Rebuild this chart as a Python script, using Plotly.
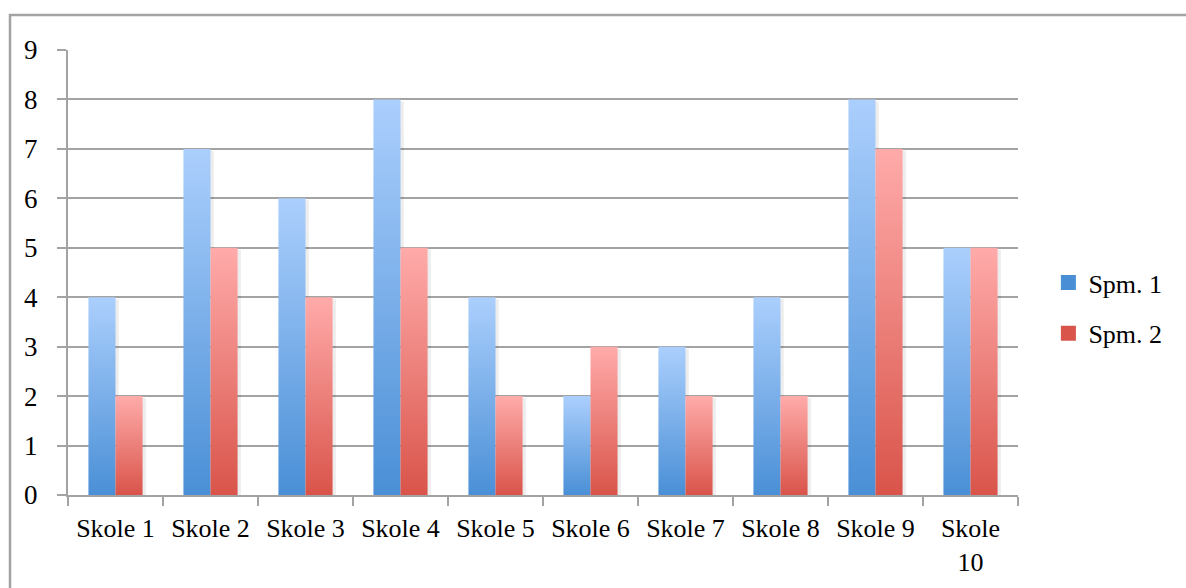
import plotly.graph_objects as go

# Chart data
schools = ["Skole 1", "Skole 2", "Skole 3", "Skole 4", "Skole 5",
           "Skole 6", "Skole 7", "Skole 8", "Skole 9", "Skole<br>10"]
spm1 = [4, 7, 6, 8, 4, 2, 3, 4, 8, 5]
spm2 = [2, 5, 4, 5, 2, 3, 2, 2, 7, 5]
y_ticks = [0, 1, 2, 3, 4, 5, 6, 7, 8, 9]

series = [
    ("Spm. 1", spm1, -1, "#4a8fd6", "#abcffd"),
    ("Spm. 2", spm2, 0, "#d9544a", "#ffabaa"),
]

BAR_W = 0.285          # width of one bar in category units
SHADOW = 0.035         # soft drop shadow to the right of each bar
FONT = "Liberation Serif"

fig = go.Figure()

# soft shadows behind the bars
for name, vals, side, dark, light in series:
    for i, v in enumerate(vals):
        x0 = i + side * BAR_W + SHADOW
        x1 = x0 + BAR_W
        fig.add_trace(go.Scatter(
            x=[x0, x1, x1, x0, x0],
            y=[0, 0, v - 0.04, v - 0.04, 0],
            mode="lines", line=dict(width=0),
            fill="toself", fillcolor="rgba(0,0,0,0.07)",
            showlegend=False, hoverinfo="skip",
        ))

# each bar is a filled rectangle with its own vertical gradient
for name, vals, side, dark, light in series:
    for i, v in enumerate(vals):
        x0 = i + side * BAR_W
        x1 = x0 + BAR_W
        fig.add_trace(go.Scatter(
            x=[x0, x1, x1, x0, x0],
            y=[0, 0, v, v, 0],
            mode="lines",
            line=dict(width=0),
            fill="toself",
            fillcolor=dark,
            fillgradient=dict(type="vertical",
                              colorscale=[[0, dark], [1, light]],
                              start=0, stop=v),
            name=name,
            legendgroup=name,
            showlegend=False,
            hoverinfo="skip",
        ))

# legend swatches
for name, vals, side, dark, light in series:
    fig.add_trace(go.Scatter(
        x=[None], y=[None], mode="markers",
        marker=dict(symbol="square", size=15, color=dark,
                    line=dict(width=0)),
        name=name, legendgroup=name, showlegend=True,
    ))

fig.update_layout(
    width=1186, height=588,
    margin=dict(l=68, r=168, t=50, b=93, autoexpand=False),
    paper_bgcolor="white", plot_bgcolor="white",
    font=dict(family=FONT, size=26, color="black"),
    showlegend=True,
    legend=dict(x=1.032, y=0.42, xanchor="left", yanchor="middle",
                font=dict(family=FONT, size=26, color="black"),
                tracegroupgap=14, itemwidth=30,
                bgcolor="rgba(0,0,0,0)"),
    xaxis=dict(
        range=[-0.5, 9.5], tickmode="array",
        tickvals=list(range(len(schools))), ticktext=schools,
        ticks="", showgrid=False, zeroline=False,
        showline=True, linecolor="#a3a3a3", linewidth=2,
        ticklabelstandoff=9, automargin=False,
        tickfont=dict(family=FONT, size=26, color="black"),
        minor=dict(tickmode="array",
                   tickvals=[i - 0.5 for i in range(len(schools) + 1)],
                   ticks="outside", ticklen=9, tickwidth=2,
                   tickcolor="#a3a3a3", showgrid=False),
        fixedrange=True,
    ),
    yaxis=dict(
        range=[0, 9], tickmode="array", tickvals=y_ticks,
        ticks="outside", ticklen=9, tickwidth=2, tickcolor="#a3a3a3",
        showgrid=True, gridcolor="#a3a3a3", gridwidth=2,
        zeroline=False, showline=True, linecolor="#a3a3a3", linewidth=2,
        ticklabelstandoff=14, automargin=False,
        tickfont=dict(family=FONT, size=27, color="black"),
        fixedrange=True,
    ),
    shapes=[dict(type="rect", xref="paper", yref="paper",
                 x0=-58 / 950, x1=1.3, y0=-0.4, y1=480 / 445,
                 line=dict(color="#a3a3a3", width=2.5),
                 fillcolor="rgba(0,0,0,0)", layer="below")],
)

fig.write_html("out.html")
